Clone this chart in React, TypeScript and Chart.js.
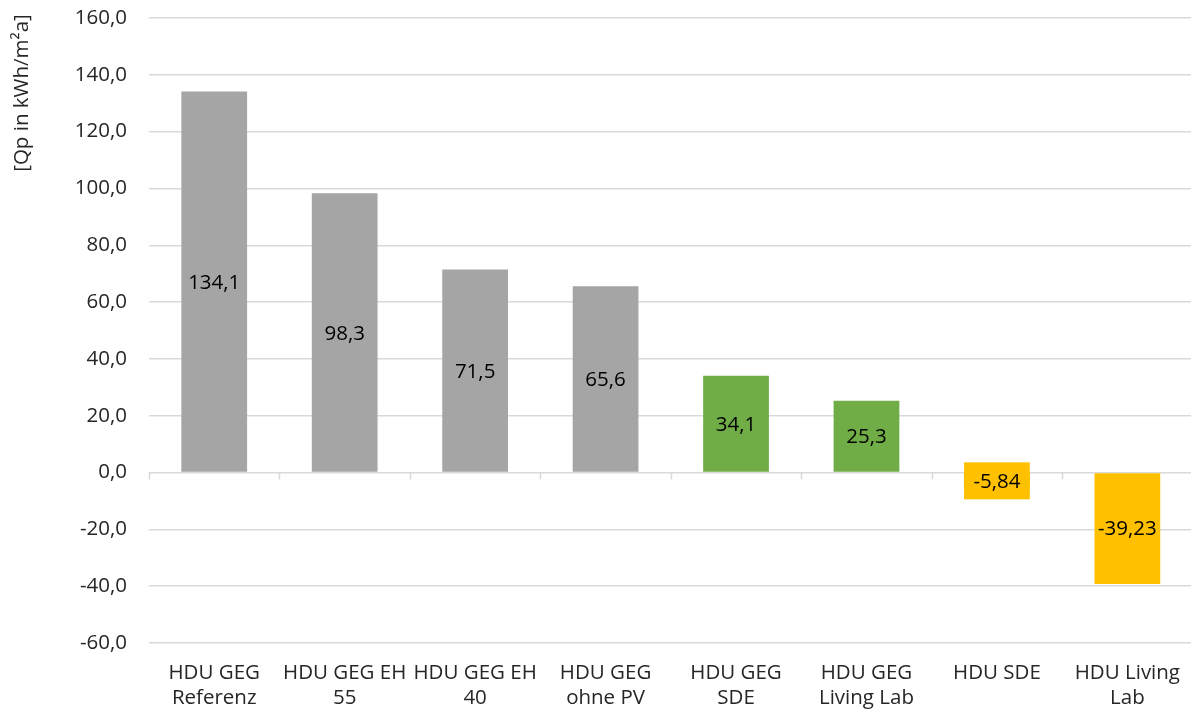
import React, { useEffect, useRef } from "react";
import { Chart, registerables } from "chart.js";

Chart.register(...registerables);

const categories: string[][] = [
  ["HDU GEG", "Referenz"],
  ["HDU GEG EH", "55"],
  ["HDU GEG EH", "40"],
  ["HDU GEG", "ohne PV"],
  ["HDU GEG", "SDE"],
  ["HDU GEG", "Living Lab"],
  ["HDU SDE"],
  ["HDU Living", "Lab"],
];
const values: number[] = [134.1, 98.3, 71.5, 65.6, 34.1, 25.3, -5.84, -39.23];
const valueLabels: string[] = ["134,1", "98,3", "71,5", "65,6", "34,1", "25,3", "-5,84", "-39,23"];
const barColors: string[] = ["#a5a5a5", "#a5a5a5", "#a5a5a5", "#a5a5a5", "#70ad47", "#70ad47", "#ffc000", "#ffc000"];
const boxedLabels: boolean[] = [false, false, false, false, false, false, true, false];
const yTitle = "[Qp in kWh/m²a]";

const FONT = "'Open Sans', 'DejaVu Sans', sans-serif";
const TEXT = "#262626";

const overlayPlugin = {
  id: "overlay",
  beforeDatasetsDraw(chart: any) {
    const { ctx, chartArea, scales } = chart;
    const y0 = scales.y.getPixelForValue(0);
    const n = categories.length;
    const w = (chartArea.right - chartArea.left) / n;
    ctx.save();
    ctx.strokeStyle = "#d9d9d9";
    ctx.lineWidth = 1.5;
    ctx.beginPath();
    for (let i = 0; i <= n; i++) {
      const x = Math.round(chartArea.left + i * w) + 0.5;
      ctx.moveTo(x, y0);
      ctx.lineTo(x, y0 + 7);
    }
    ctx.stroke();
    ctx.restore();
  },
  afterDatasetsDraw(chart: any) {
    const { ctx, scales } = chart;
    const meta = chart.getDatasetMeta(0);
    const y0 = scales.y.getPixelForValue(0);
    ctx.save();
    ctx.font = `20.5px ${FONT}`;
    ctx.textAlign = "center";
    ctx.textBaseline = "middle";
    meta.data.forEach((bar: any, i: number) => {
      const yv = scales.y.getPixelForValue(values[i]);
      const cy = (yv + y0) / 2;
      if (boxedLabels[i]) {
        const bw = bar.width;
        ctx.fillStyle = barColors[i];
        ctx.fillRect(bar.x - bw / 2, cy - 18.5, bw, 37);
      }
      ctx.fillStyle = "#000";
      ctx.fillText(valueLabels[i], bar.x, cy + 1);
    });
    // y-axis title
    ctx.translate(22, 93);
    ctx.rotate(-Math.PI / 2);
    ctx.font = `20.5px ${FONT}`;
    ctx.fillStyle = TEXT;
    ctx.fillText(yTitle, 0, 0);
    ctx.restore();
  },
};

export default function App() {
  const canvasRef = useRef<HTMLCanvasElement | null>(null);

  useEffect(() => {
    if (!canvasRef.current) return;
    const chart = new Chart(canvasRef.current, {
      type: "bar",
      data: {
        labels: categories,
        datasets: [
          {
            data: values,
            backgroundColor: barColors,
            borderWidth: 0,
            categoryPercentage: 1,
            barPercentage: 0.504,
          },
        ],
      },
      options: {
        animation: false,
        responsive: true,
        maintainAspectRatio: false,
        layout: { padding: { top: 18, right: 0, left: 0, bottom: 0 } },
        plugins: {
          legend: { display: false },
          tooltip: { enabled: false },
        },
        scales: {
          x: {
            grid: { display: false, drawTicks: false },
            border: { display: false },
            ticks: {
              autoSkip: false,
              maxRotation: 0,
              minRotation: 0,
              padding: 17,
              color: TEXT,
              font: { family: FONT, size: 20.5, lineHeight: 1.25 },
            },
            afterFit: (scale: any) => {
              scale.height = 72;
            },
          },
          y: {
            min: -60,
            max: 160,
            grid: { color: "#d9d9d9", lineWidth: 1.5, drawTicks: true, tickLength: 18, tickColor: "rgba(0,0,0,0)" },
            border: { display: false },
            ticks: {
              stepSize: 20,
              padding: 4,
              color: TEXT,
              font: { family: FONT, size: 20.5 },
              callback: (v: any) => Number(v).toFixed(1).replace(".", ","),
            },
            afterFit: (scale: any) => {
              scale.width = 149;
            },
          },
        },
      },
      plugins: [overlayPlugin],
    });
    return () => chart.destroy();
  }, []);

  return (
    <div style={{ position: "absolute", left: 0, top: 0, width: 1191, height: 715, overflow: "hidden", background: "#fff" }}>
      <div style={{ position: "relative", width: 1197, height: 715 }}>
        <canvas ref={canvasRef} />
      </div>
    </div>
  );
}
